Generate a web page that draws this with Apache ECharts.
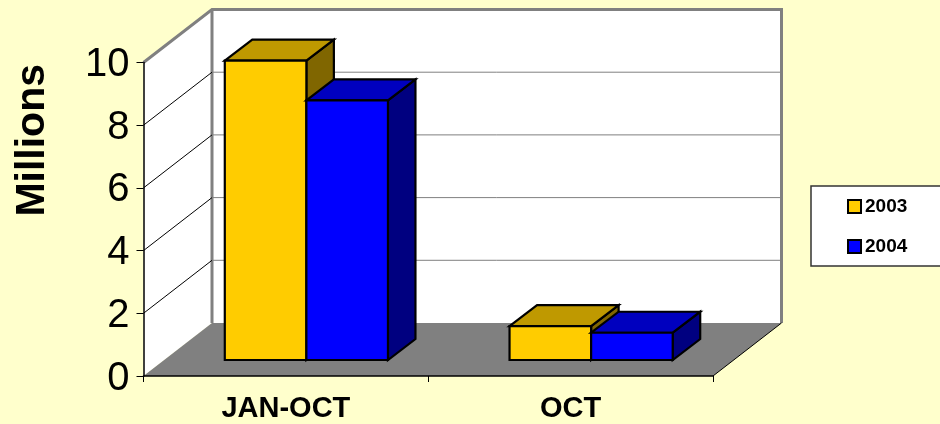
<!DOCTYPE html>
<html>
<head>
<meta charset="utf-8">
<style>html,body{margin:0;padding:0;background:#FFFFCC}#c{width:940px;height:424px}</style>
<script src="https://cdn.jsdelivr.net/npm/echarts@6/dist/echarts.min.js"></script>
</head>
<body>
<div id="c"></div>
<script>
const categories = ['JAN-OCT', 'OCT'];
const values2003 = [9.55, 1.08];
const values2004 = [8.28, 0.87];
const yTicks = [0, 2, 4, 6, 8, 10];
const seriesNames = ['2003', '2004'];
const unitLabel = 'Millions';

// projection style (pixels)
const WALL_DX = 68.5, WALL_DY = 53;
const BASE_DX = 20.5, BASE_DY = 16;
const BAR_DX = 27.5, BAR_DY = 21;
const BAR_FRACTION = 0.2865;
const faceColors = [
  { front: '#FFCC00', top: '#BF9900', side: '#806600' },
  { front: '#0000FF', top: '#0000BF', side: '#000080' }
];

function poly(points, fill, stroke, lineWidth) {
  return {
    type: 'polygon',
    shape: { points },
    style: { fill, stroke: stroke || 'none', lineWidth: lineWidth || 0, lineJoin: 'miter' }
  };
}
function line(points, stroke, lineWidth) {
  return {
    type: 'polyline',
    shape: { points },
    style: { fill: 'none', stroke, lineWidth }
  };
}

function renderWalls(params, api) {
  const r = params.coordSys;
  const x0 = r.x, x1 = r.x + r.width, yB = r.y + r.height, yT = r.y;
  const children = [];
  if (params.dataIndex === 0) {
    children.push(poly([[x0 + WALL_DX, yT - WALL_DY], [x1 + WALL_DX, yT - WALL_DY], [x1 + WALL_DX, yB - WALL_DY], [x0 + WALL_DX, yB - WALL_DY]], '#FFFFFF'));
    children.push(poly([[x0, yT], [x0 + WALL_DX, yT - WALL_DY], [x0 + WALL_DX, yB - WALL_DY], [x0, yB]], '#FFFFFF'));
    children.push(line([[x0, yT], [x0 + WALL_DX, yT - WALL_DY], [x1 + WALL_DX, yT - WALL_DY], [x1 + WALL_DX, yB - WALL_DY]], '#808080', 3));
    children.push(line([[x0 + WALL_DX, yT - WALL_DY], [x0 + WALL_DX, yB - WALL_DY]], '#808080', 3));
    children.push(poly([[x0, yB], [x0 + WALL_DX, yB - WALL_DY], [x1 + WALL_DX, yB - WALL_DY], [x1, yB]], '#808080'));
    children.push(line([[x1, yB], [x1 + WALL_DX, yB - WALL_DY]], '#000000', 1));
  } else if (api.value(1) < yTicks[yTicks.length - 1]) {
    const y = api.coord([0, api.value(1)])[1];
    children.push(line([[x0, y], [x0 + WALL_DX, y - WALL_DY]], '#000000', 1));
    children.push(line([[x0 + WALL_DX, y - WALL_DY], [x1 + WALL_DX, y - WALL_DY]], '#808080', 1));
  }
  return { type: 'group', children };
}

function renderBar(params, api) {
  const s = params.seriesIndex - 1;
  const c = faceColors[s];
  const p = api.coord([api.value(0), api.value(1)]);
  const p0 = api.coord([api.value(0), 0]);
  const band = api.size([1, 0])[0];
  const w = band * BAR_FRACTION;
  const xL = p[0] + BASE_DX + (s === 0 ? -w : 0);
  const xR = xL + w;
  const yT = p[1] - BASE_DY;
  const yB = p0[1] - BASE_DY;
  const stroke = '#000000', lw = 2.2;
  return {
    type: 'group',
    children: [
      poly([[xR, yT], [xR + BAR_DX, yT - BAR_DY], [xR + BAR_DX, yB - BAR_DY], [xR, yB]], c.side, stroke, lw),
      poly([[xL, yT], [xL + BAR_DX, yT - BAR_DY], [xR + BAR_DX, yT - BAR_DY], [xR, yT]], c.top, stroke, lw),
      poly([[xL, yT], [xR, yT], [xR, yB], [xL, yB]], c.front, stroke, lw)
    ]
  };
}

const chart = echarts.init(document.getElementById('c'), null, { renderer: 'canvas' });
const FONT = '"Liberation Sans", Arial, sans-serif';
chart.setOption({
  animation: false,
  backgroundColor: '#FFFFCC',
  textStyle: { fontFamily: FONT },
  grid: { left: 143.5, top: 62.5, width: 569.5, height: 313.5, containLabel: false },
  xAxis: {
    type: 'category',
    data: categories,
    z: 5,
    axisLine: { show: true, lineStyle: { color: '#000', width: 1.5 } },
    axisTick: { show: true, length: 6, lineStyle: { color: '#000', width: 1 }, alignWithLabel: false },
    axisLabel: { color: '#000', fontSize: 29, fontWeight: 'bold', fontFamily: FONT, margin: 18, interval: 0 },
    splitLine: { show: false }
  },
  yAxis: {
    type: 'value',
    min: 0, max: 10, interval: 2,
    z: 5,
    axisLine: { show: true, lineStyle: { color: '#000', width: 1.5 } },
    axisTick: { show: true, length: 7, lineStyle: { color: '#000', width: 1 } },
    axisLabel: { color: '#000', fontSize: 40, fontFamily: FONT, margin: 14, verticalAlign: 'top', lineHeight: 5 },
    splitLine: { show: false }
  },
  legend: {
    show: true,
    data: seriesNames,
    orient: 'vertical',
    left: 811, top: 186,
    padding: [11, 40, 10, 36],
    itemGap: 21,
    itemWidth: 13, itemHeight: 13,
    icon: 'rect',
    itemStyle: { borderColor: '#000', borderWidth: 2 },
    backgroundColor: '#FFFFFF',
    borderColor: '#333333',
    borderWidth: 1.5,
    borderRadius: 0,
    textStyle: { color: '#000', fontSize: 19, fontWeight: 'bold', fontFamily: FONT, padding: [0, 0, 0, -1] }
  },
  graphic: [{
    type: 'text',
    left: 12, top: 64,
    rotation: Math.PI / 2,
    style: { text: unitLabel, fill: '#000', font: 'bold 41px ' + FONT }
  }],
  series: [
    {
      type: 'custom', name: 'walls', renderItem: renderWalls, silent: true, clip: false, z: 1,
      data: yTicks.map(t => [0, t])
    },
    {
      type: 'custom', name: seriesNames[0], renderItem: renderBar, clip: false, z: 2,
      itemStyle: { color: faceColors[0].front, borderColor: '#000', borderWidth: 2 },
      data: values2003.map((v, i) => [i, v])
    },
    {
      type: 'custom', name: seriesNames[1], renderItem: renderBar, clip: false, z: 3,
      itemStyle: { color: faceColors[1].front, borderColor: '#000', borderWidth: 2 },
      data: values2004.map((v, i) => [i, v])
    }
  ]
});
</script>
</body>
</html>
